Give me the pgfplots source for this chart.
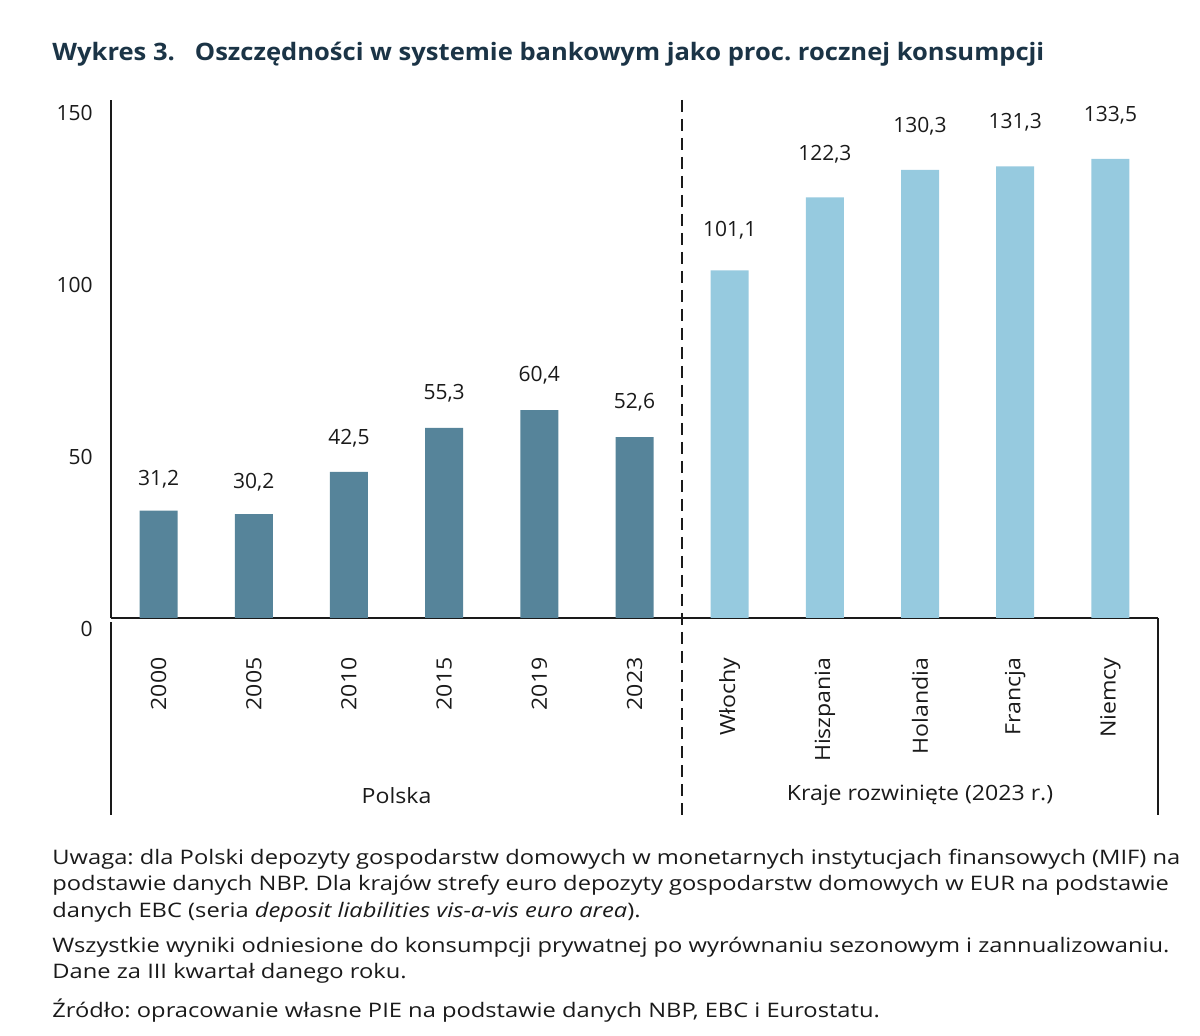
\documentclass[border=0pt]{standalone}
\usepackage{pgfplots}
\pgfplotsset{compat=1.18}
\usepackage{fontspec}
\setmainfont{Open Sans}
\newfontfamily\widefont[FakeStretch=1.1]{Open Sans}
\newfontfamily\notefont[FakeStretch=1.185]{Open Sans}
\newfontfamily\titlefont[FakeStretch=1.065]{Open Sans}
\definecolor{darkbar}{HTML}{56849A}
\definecolor{lightbar}{HTML}{96CADF}
\definecolor{titlecol}{HTML}{1B3446}
\definecolor{txt}{HTML}{1A1A1A}
\frenchspacing
\begin{document}
\begin{tikzpicture}
\useasboundingbox (0,0) rectangle (600pt,-518pt);
\node[anchor=west, inner sep=0pt, text=titlecol, font=\titlefont\fontsize{12}{14}\selectfont\bfseries] at (26pt,-27pt) {Wykres 3.\hspace{10pt}Oszczędności w systemie bankowym jako proc. rocznej konsumpcji};
\begin{axis}[
  at={(55.5pt,-309pt)}, anchor=south west,
  scale only axis, width=523.5pt, height=259pt,
  xmin=-0.5, xmax=10.5, ymin=0, ymax=150.6,
  axis x line*=bottom, axis y line*=left,
  axis line style={line width=0.7pt, color=txt},
  clip=false,
  major tick length=0pt,
  ytick={0,50,100,150},
  yticklabel style={inner sep=0pt, yshift=-5.5pt, font=\fontsize{10.5}{12}\selectfont, text=txt},
  yticklabel shift=9pt,
  xtick={0,...,10},
  xticklabels={2000,2005,2010,2015,2019,2023,Włochy,Hiszpania,Holandia,Francja,Niemcy},
  xticklabel style={rotate=90, anchor=east, inner sep=0pt, font=\widefont\fontsize{10.5}{12}\selectfont, text=txt},
  xticklabel shift=19.5pt,
  /pgf/number format/assume math mode=true,
  ybar, bar width=19pt,
  visualization depends on={rawy \as \rawy},
  nodes near coords={\pgfmathprintnumber[fixed,fixed zerofill,precision=1,use comma,assume math mode=true]{\pgfplotspointmeta}},
  every node near coord/.append style={anchor=base, inner sep=0pt, yshift={11pt+0.059pt*\rawy}, font=\fontsize{10.5}{12}\selectfont, text=txt},
]
\addplot[bar shift=0pt, fill=darkbar, draw=none] coordinates {(0,31.2) (1,30.2) (2,42.5) (3,55.3) (4,60.4) (5,52.6)};
\addplot[bar shift=0pt, fill=lightbar, draw=none] coordinates {(6,101.1) (7,122.3) (8,130.3) (9,131.3) (10,133.5)};
\draw[txt, line width=0.7pt, dash pattern=on 6pt off 3.5pt] (axis cs:5.5,150.6) -- (axis cs:5.5,-57.3);
\draw[txt, line width=0.7pt] (axis cs:-0.5,-1.2) -- (axis cs:-0.5,-57.3);
\draw[txt, line width=0.7pt] (axis cs:10.5,0) -- (axis cs:10.5,-57.3);
\node[font=\widefont\fontsize{10.5}{12}\selectfont, text=txt] at (axis cs:2.5,-51.5) {Polska};
\node[font=\widefont\fontsize{10.5}{12}\selectfont, text=txt] at (axis cs:8,-51.5) {Kraje rozwinięte (2023 r.)};
\end{axis}
\begin{scope}[every node/.style={anchor=west, inner sep=0pt, text=txt, font=\notefont\fontsize{10}{12}\selectfont, text height=1.6ex, text depth=0.45ex}]
\node at (26pt,-429pt) {Uwaga: dla Polski depozyty gospodarstw domowych w monetarnych instytucjach finansowych (MIF) na};
\node at (26pt,-442pt) {podstawie danych NBP. Dla krajów strefy euro depozyty gospodarstw domowych w EUR na podstawie};
\node at (26pt,-455.5pt) {danych EBC (seria \textit{deposit liabilities vis-a-vis euro area}).};
\node at (26pt,-473pt) {Wszystkie wyniki odniesione do konsumpcji prywatnej po wyrównaniu sezonowym i zannualizowaniu.};
\node at (26pt,-486pt) {Dane za III kwartał danego roku.};
\node at (26pt,-505.5pt) {Źródło: opracowanie własne PIE na podstawie danych NBP, EBC i Eurostatu.};
\end{scope}
\end{tikzpicture}
\end{document}
